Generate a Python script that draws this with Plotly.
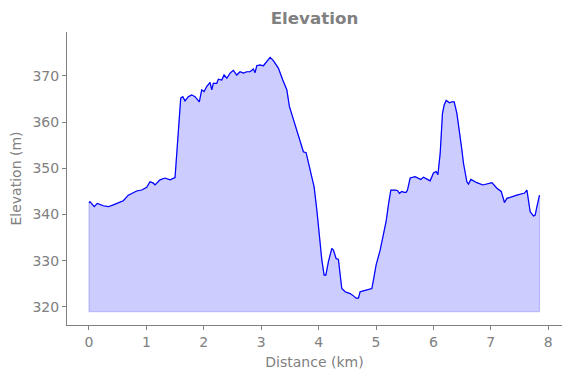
import plotly.graph_objects as go

distance_km = [0.000, 0.017, 0.092, 0.145, 0.249, 0.336, 0.424, 0.511, 0.598, 0.685, 0.744, 0.831, 0.919,
               1.006, 1.063, 1.121, 1.150, 1.237, 1.324, 1.412, 1.499, 1.539, 1.574, 1.598, 1.633, 1.673,
               1.731, 1.790, 1.847, 1.922, 1.964, 2.004, 2.051, 2.109, 2.139, 2.166, 2.226, 2.254, 2.313,
               2.353, 2.400, 2.458, 2.515, 2.574, 2.632, 2.689, 2.749, 2.806, 2.864, 2.893, 2.923, 2.980,
               3.038, 3.097, 3.155, 3.212, 3.299, 3.376, 3.446, 3.491, 3.561, 3.620, 3.678, 3.735, 3.782,
               3.822, 3.882, 3.922, 3.969, 4.014, 4.056, 4.096, 4.126, 4.171, 4.230, 4.258, 4.305, 4.345,
               4.404, 4.462, 4.549, 4.607, 4.654, 4.694, 4.723, 4.781, 4.868, 4.927, 4.955, 5.002, 5.072,
               5.129, 5.176, 5.216, 5.258, 5.333, 5.373, 5.408, 5.450, 5.490, 5.525, 5.548, 5.583, 5.595,
               5.682, 5.781, 5.826, 5.943, 6.001, 6.048, 6.078, 6.118, 6.158, 6.187, 6.222, 6.280, 6.322,
               6.362, 6.409, 6.454, 6.496, 6.524, 6.583, 6.611, 6.653, 6.757, 6.815, 6.862, 7.019, 7.106,
               7.181, 7.210, 7.238, 7.280, 7.367, 7.454, 7.542, 7.582, 7.629, 7.657, 7.686, 7.744, 7.773,
               7.803, 7.848]
elevation_m = [342.5, 342.8, 341.7, 342.4, 341.9, 341.7, 342.1, 342.6, 343.0, 344.2, 344.6, 345.1, 345.3,
               345.9, 347.1, 346.8, 346.4, 347.5, 347.9, 347.5, 348.0, 354.7, 361.9, 365.2, 365.5, 364.6,
               365.5, 365.9, 365.5, 364.4, 367.0, 366.6, 367.7, 368.6, 367.0, 368.4, 368.4, 369.3, 369.1,
               370.2, 369.5, 370.6, 371.2, 370.2, 370.9, 370.6, 370.9, 370.9, 371.5, 370.7, 372.2, 372.4,
               372.2, 373.1, 374.0, 373.3, 371.7, 369.1, 367.0, 363.4, 360.5, 358.3, 355.4, 353.6, 353.4,
               351.1, 348.2, 346.0, 341.0, 334.5, 330.2, 326.9, 326.9, 329.8, 332.7, 332.3, 330.5, 330.3,
               324.0, 323.3, 322.9, 322.4, 321.9, 321.9, 323.3, 323.5, 323.8, 324.0, 325.8, 329.1, 332.3,
               336.0, 338.5, 342.1, 345.3, 345.3, 345.2, 344.6, 345.0, 344.8, 344.8, 345.3, 347.5, 347.9,
               348.2, 347.6, 348.1, 347.3, 349.0, 349.3, 348.6, 353.3, 361.9, 363.7, 364.7, 364.2, 364.4,
               364.4, 361.9, 358.3, 354.0, 351.1, 347.1, 346.6, 347.6, 346.9, 346.6, 346.4, 346.9, 345.7,
               345.0, 343.9, 342.6, 343.5, 343.9, 344.2, 344.5, 344.6, 345.3, 343.2, 340.6, 339.7, 339.9,
               341.7, 344.2]
base_m = 319

x_tick_vals = [0, 1, 2, 3, 4, 5, 6, 7, 8]
y_tick_vals = [320, 330, 340, 350, 360, 370]

fig = go.Figure()
fig.add_trace(go.Scatter(
    x=distance_km + [distance_km[-1], distance_km[0], distance_km[0]],
    y=elevation_m + [base_m, base_m, elevation_m[0]],
    fill="toself", fillcolor="rgba(0,0,255,0.2)",
    line=dict(color="rgba(0,0,255,0.2)", width=1.2),
    mode="lines", hoverinfo="skip", showlegend=False))
fig.add_trace(go.Scatter(x=distance_km, y=elevation_m, mode="lines",
                         line=dict(color="#0000ff", width=1.2), showlegend=False))

gray = "#808080"
fig.update_layout(
    width=571, height=378,
    margin=dict(l=67, r=9, t=32, b=53, autoexpand=False),
    plot_bgcolor="white", paper_bgcolor="white",
    font=dict(family="DejaVu Sans", color=gray, size=14),
    title=dict(text="<b>Elevation</b>", x=0.5, xanchor="center", xref="paper",
               y=1 - 18 / 378, yref="container", yanchor="middle",
               font=dict(size=16.7, color=gray), automargin=False),
    xaxis=dict(range=[-0.383, 8.24], tickvals=x_tick_vals, automargin=False,
               showline=True, linecolor=gray, linewidth=1, ticks="outside", ticklen=4,
               tickcolor=gray, showgrid=False, zeroline=False,
               title=dict(text="Distance (km)", standoff=8, font=dict(size=14)), tickfont=dict(size=14)),
    yaxis=dict(range=[316.1, 379.5], tickvals=y_tick_vals, automargin=False,
               showline=True, linecolor=gray, linewidth=1, ticks="outside", ticklen=4,
               tickcolor=gray, showgrid=False, zeroline=False,
               title=dict(text="Elevation (m)", standoff=7, font=dict(size=14)), tickfont=dict(size=14)),
)
fig.write_html("out.html", config={"displayModeBar": False},
               post_script="document.body.style.margin='0';")
